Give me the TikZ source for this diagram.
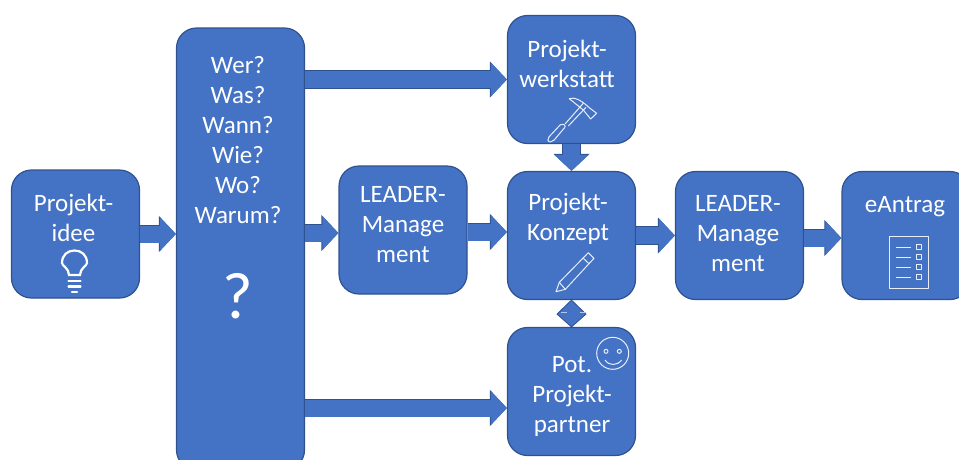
\documentclass[tikz,border=0pt]{standalone}
\usepackage{fontspec}
\setmainfont{Carlito}
\usetikzlibrary{arrows.meta,calc}
\definecolor{boxblue}{HTML}{4472C4}
\definecolor{edgeblue}{HTML}{2F528F}
\tikzset{
  x=1pt,y=-1pt,
  card/.style={draw=edgeblue,line width=1.2pt,fill=boxblue,rounded corners=20pt,inner sep=0pt,minimum width=128pt,minimum height=128pt},
  lbl/.style={text=white,align=center,font=\fontsize{25}{30}\selectfont,inner sep=0pt},
  blockarrow/.style={draw=boxblue,line width=17pt,-{Triangle[length=16pt,width=33pt]},
    preaction={draw=edgeblue,line width=18.2pt,-{Triangle[length=17pt,width=35pt]}}},
  icon/.style={draw=white!88!boxblue,line width=1pt,fill=none,line join=round},
  iconb/.style={draw=white,line width=2.2pt,fill=none,line cap=round},
}
\begin{document}
\begin{tikzpicture}
\useasboundingbox (0,0) rectangle (959,459);
\clip (0,0) rectangle (959,459);
% boxes
\node[card] (idee) at (75.5,234) {};
\node[card,minimum height=442pt] (frage) at (240.5,249) {};
\node[card] (lm1) at (403,230) {};
\node[card] (werk) at (571.5,79.5) {};
\node[card] (konz) at (571.5,235.5) {};
\node[card] (part) at (571.5,391.5) {};
\node[card] (lm2) at (739.5,235.5) {};
\node[card] (eant) at (906,235.5) {};
% connectors
\coordinate (fw) at (frage.east |- werk.west);
\coordinate (fl) at (304.5,233);
\coordinate (fp) at (304.5,408);
\coordinate (pw) at (part.west |- fp);
\coordinate (lk) at (467.5,232);
\coordinate (kw) at (konz.west |- lk);
\coordinate (fi) at (frage.west |- idee.east);
\coordinate (ll) at (lm1.west |- fl);
\coordinate (me) at (lm2.east |- 0,238);
\coordinate (ew) at (eant.west |- me);
\draw[blockarrow] (idee.east) -- (fi);
\draw[blockarrow] (fw) -- (werk.west);
\draw[blockarrow] (fl) -- (ll);
\draw[blockarrow] (fp) -- (pw);
\draw[blockarrow] (lk) -- (kw);
\draw[blockarrow] (konz.east) -- (lm2.west);
\draw[blockarrow] (me) -- (ew);
\draw[blockarrow] (werk.south) -- (konz.north);
% double arrow between Konzept and partner
\draw[draw=edgeblue,line width=.8pt,fill=boxblue,line join=miter]
  (konz.south) -- ($(konz.south)+(14.5,14)$) -- (part.north) -- ($(konz.south)+(-14.5,14)$) -- cycle;
\draw[white!60!boxblue,line width=.8pt] ($(konz.south)+(-11,12.5)$) -- ($(konz.south)+(-5,12.5)$)
  ($(konz.south)+(8,12.5)$) -- ($(konz.south)+(14,12.5)$);
% labels
\node[lbl] (t1) at (73.5,218) {Projekt-\\idee};
\node[lbl] (t2) at (238,140) {Wer?\\Was?\\Wann?\\Wie?\\Wo?\\Warum?};
\node[lbl,font=\fontsize{66}{66}\selectfont] (t3) at (238,296) {?};
\node[lbl] (t4) at (403,225) {LEADER-\\Manage\\ment};
\node[lbl] (t5) at (567,63.5) {Projekt-\\werkstatt};
\node[lbl] (t6) at (568,219) {Projekt-\\Konzept};
\node[lbl] (t7) at (572,396) {Pot.\\Projekt-\\partner};
\node[lbl] (t8) at (738,233.5) {LEADER-\\Manage\\ment};
\node[lbl] (t9) at (905,207) {eAntrag};
% bulb
\begin{scope}[shift={(74.5,265)}]
\draw[iconb] (-5.5,10) .. controls (-5.5,3) and (-12.5,1) .. (-12.5,-2) .. controls (-12.5,-10) and (-7,-14.5) .. (0,-14.5)
  .. controls (7,-14.5) and (12.5,-10) .. (12.5,-2) .. controls (12.5,1) and (5.5,3) .. (5.5,10) -- cycle;
\draw[iconb] (-6,16) -- (6,16) (-6,21.5) -- (6,21.5) (-2.5,27) -- (2.5,27);
\end{scope}
% hammer
\draw[icon,rounded corners=2pt] (547.7,138.3) -- (561.7,123.3) -- (566,126) -- (552.7,141.7) -- (548,142) -- cycle;
\draw[icon] (565,124) -- (583.3,103.3) (568.3,126) -- (586,107.3);
\draw[icon] (569.3,98.7) .. controls (574,97) and (580,99) .. (590,108.3) -- (596.7,113.3) -- (590.7,119) -- (586,113.3) -- (583.3,110) -- (575,103.3) -- cycle;
% pencil
\draw[icon] (556,291.7) -- (559.3,282.3) -- (588.3,252.7) -- (594,258.3) -- (565.3,289.3) -- cycle;
\draw[icon] (559.3,282.3) -- (565.3,289.3) (583.3,258.3) -- (589.3,264);
% smiley
\draw[icon] (612.7,353.3) circle (16);
\draw[icon] (606,351.3) circle (2) (619.3,351.3) circle (2);
\draw[icon] (605,360) .. controls (609,366) and (617,366) .. (621.7,360);
% form
\begin{scope}[shift={(908.8,262)}]
\draw[icon] (-19.5,-26) rectangle (19.5,26);
\draw[icon] (-13,-14.7) -- (2,-14.7) (-13,-4.7) -- (2,-4.7) (-13,5.3) -- (2,5.3) (-13,15.3) -- (2,15.3);
\foreach \yy in {-14.7,-4.7,5.3,15.3} \draw[icon] (8,\yy-2.5) rectangle (13,\yy+2.5);
\end{scope}
\end{tikzpicture}
\end{document}
